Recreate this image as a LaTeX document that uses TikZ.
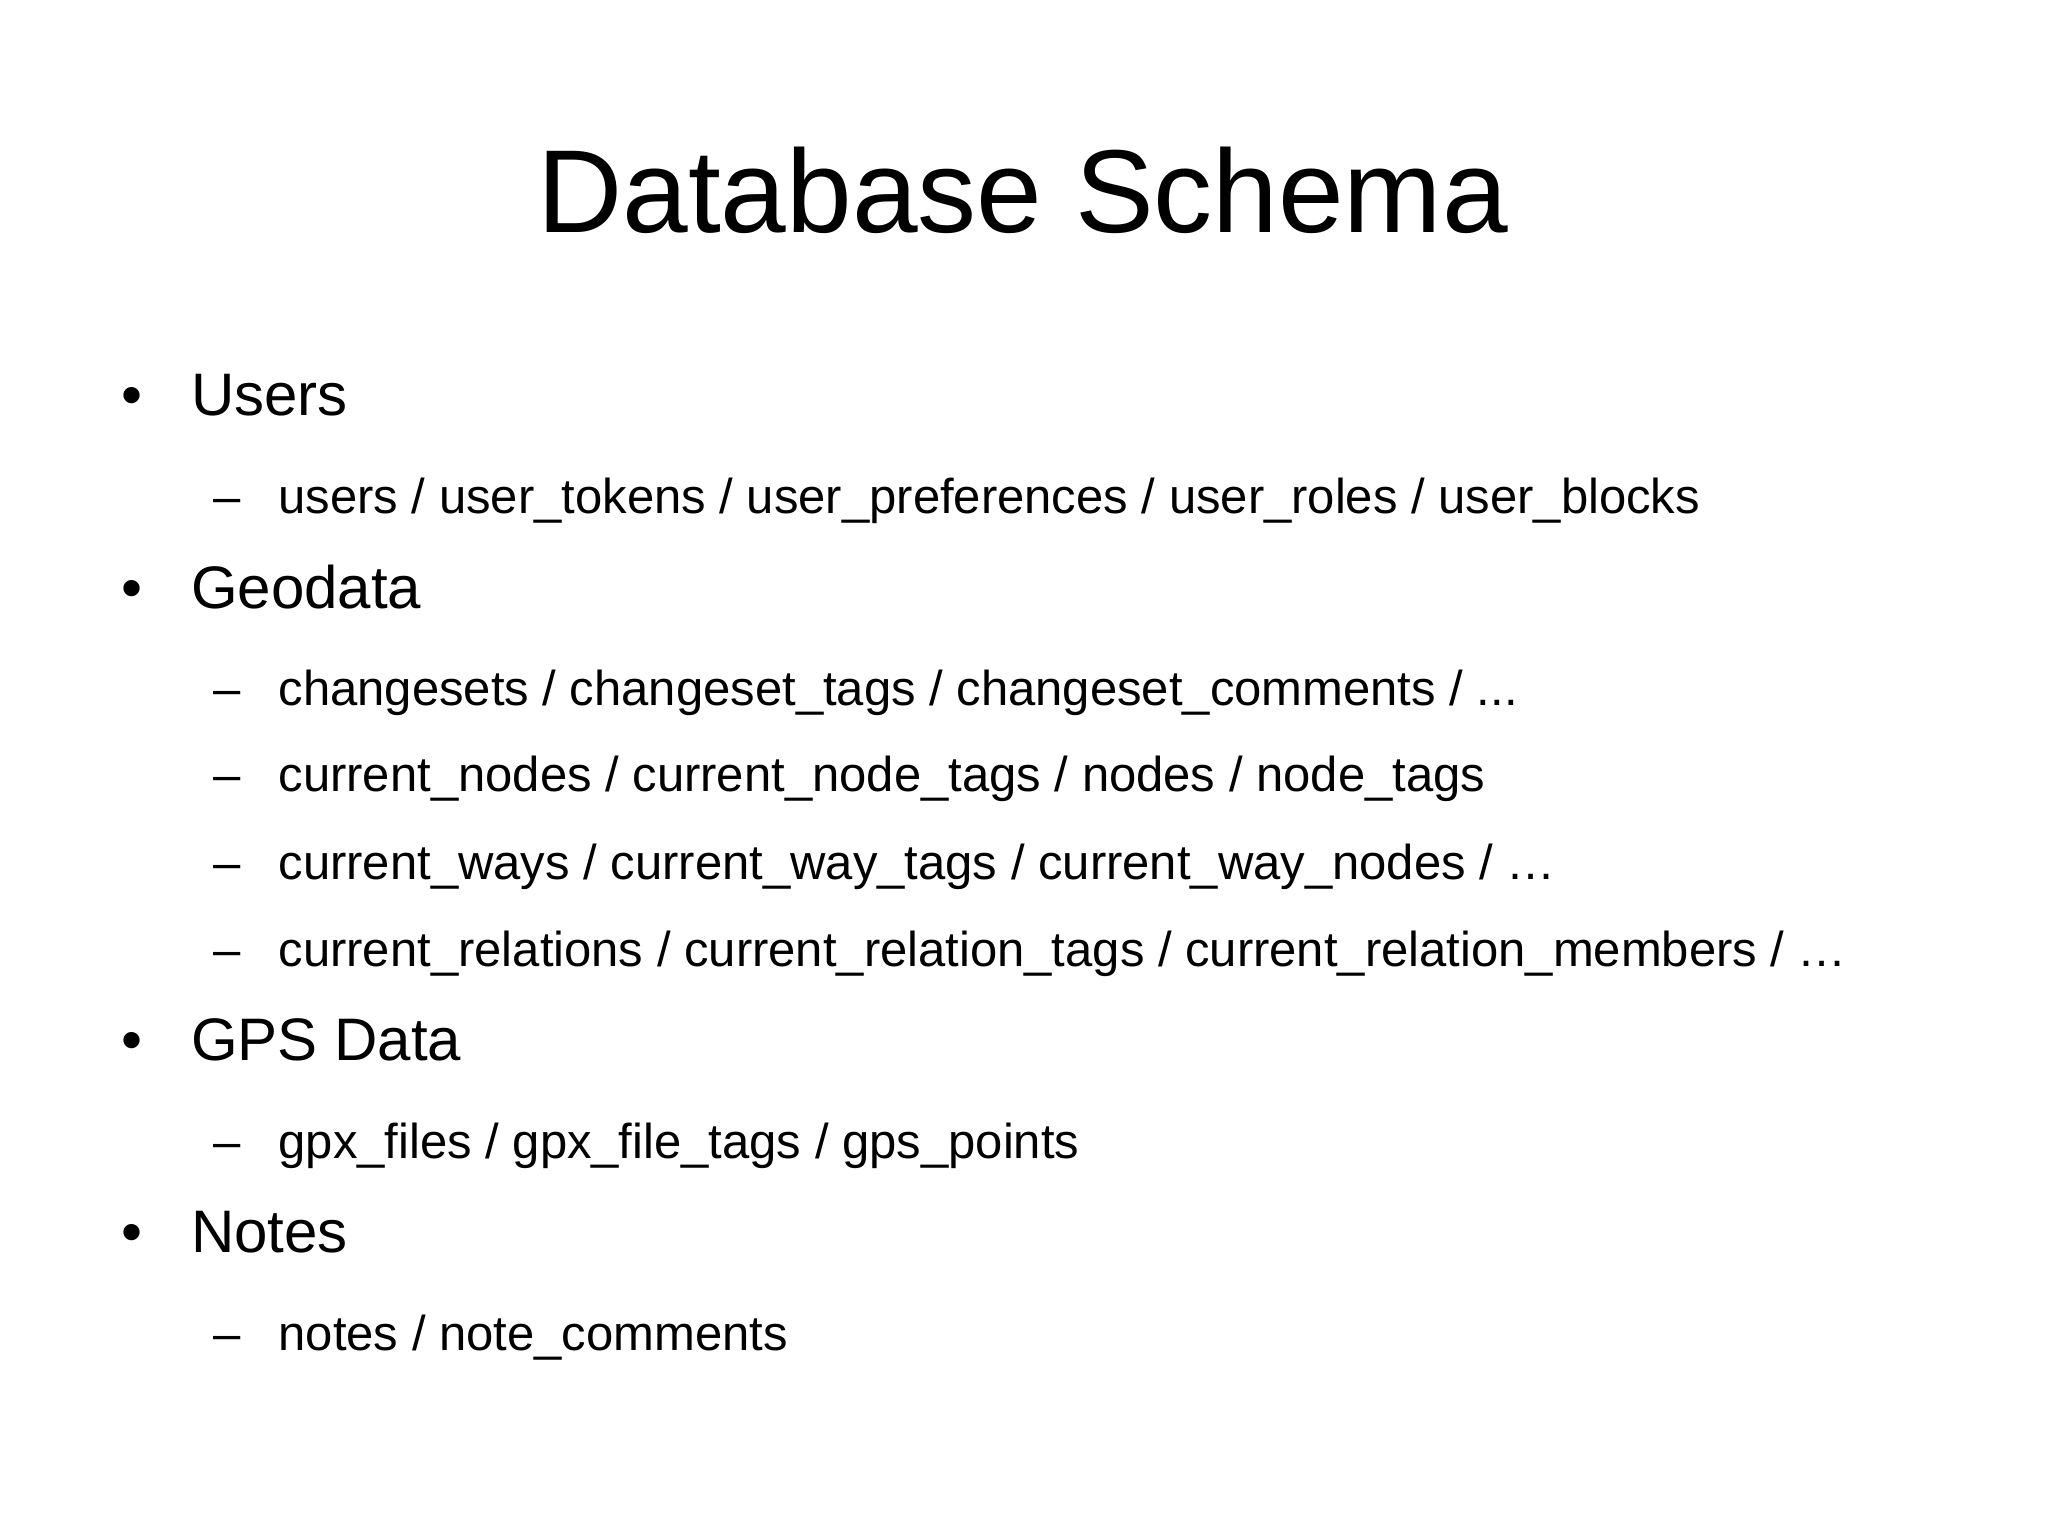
\documentclass[tikz,border=0pt]{standalone}
\usepackage{fontspec}
\setmainfont{Liberation Sans}
\begin{document}
\begin{tikzpicture}[x=0.6531pt,y=-0.6531pt,
 title/.style={anchor=base,font=\fontsize{59}{60}\selectfont,inner sep=0},
 lvl/.style={anchor=base west,font=\fontsize{30}{32}\selectfont,inner sep=0},
 sub/.style={anchor=base west,font=\fontsize{24.5}{26}\selectfont,inner sep=0}]
\useasboundingbox (0,0) rectangle (1568,1175);
\node[title] (t) at (783,178) {Database Schema};
\foreach \n/\y/\s in {u/318/Users, g/466/Geodata, p/812/GPS Data, n/959/Notes}{
 \node[lvl] (b\n) at (93,\y) {•};
 \node[lvl] (l\n) at (146,\y) {\s};}
\foreach \n/\y/\s in {a/393/{users / user\_tokens / user\_preferences / user\_roles / user\_blocks},
 b/540/{changesets / changeset\_tags / changeset\_comments / ...},
 c/606/{current\_nodes / current\_node\_tags / nodes / node\_tags},
 d/673/{current\_ways / current\_way\_tags / current\_way\_nodes / …},
 e/740/{current\_relations / current\_relation\_tags / current\_relation\_members / …},
 f/887/{gpx\_files / gpx\_file\_tags / gps\_points},
 h/1034/{notes / note\_comments}}{
 \node[sub] (d\n) at (163,\y) {–};
 \node[sub] (s\n) at (213,\y) {\s};}
\end{tikzpicture}
\end{document}
